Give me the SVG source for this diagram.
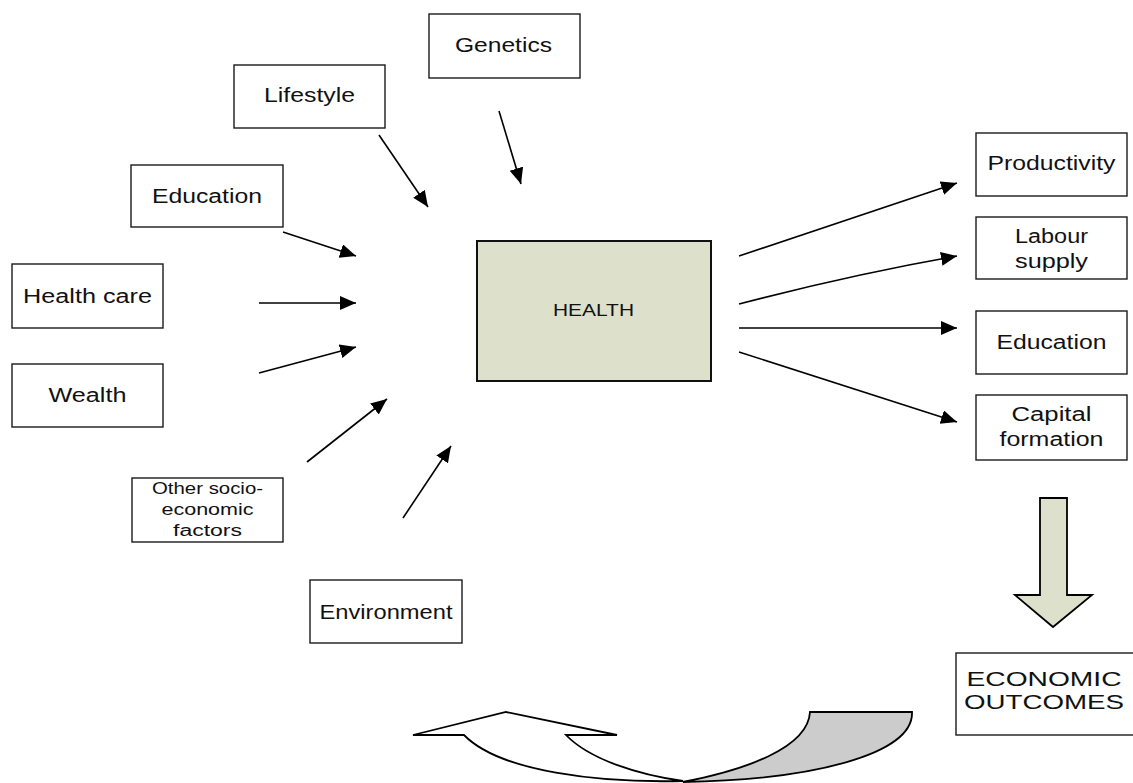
<svg xmlns="http://www.w3.org/2000/svg" width="1133" height="783" viewBox="0 0 1133 783">
  <style>
    .box { fill: #ffffff; stroke: #1a1a1a; stroke-width: 1.4; }
    .core { fill: #dde0cb; stroke: #111111; stroke-width: 2; }
    .lbl { font-family: "Liberation Sans", Arial, sans-serif; font-size: 20px; fill: #111111; text-anchor: middle; }
    .small { font-size: 16px; }
    .edge { stroke: #000000; stroke-width: 1.6; fill: none; marker-end: url(#head); }
    .shape { stroke: #000000; stroke-width: 1.8; stroke-linejoin: miter; }
  </style>
  <defs>
    <marker id="head" markerUnits="userSpaceOnUse" markerWidth="17" markerHeight="15" refX="16" refY="7" orient="auto">
      <path d="M0,0 L16,7 L0,14 Z" fill="#000000"/>
    </marker>
  </defs>

  <rect width="1133" height="783" fill="#ffffff"/>

  <!-- determinants of health -->
  <g id="genetics">
    <rect class="box" x="429" y="14" width="151" height="64"/>
    <text class="lbl" x="503.5" y="52" textLength="97" lengthAdjust="spacingAndGlyphs">Genetics</text>
  </g>
  <g id="lifestyle">
    <rect class="box" x="234" y="65" width="151" height="63"/>
    <text class="lbl" x="309.5" y="102" textLength="91" lengthAdjust="spacingAndGlyphs">Lifestyle</text>
  </g>
  <g id="education-in">
    <rect class="box" x="131" y="165" width="152" height="62"/>
    <text class="lbl" x="207" y="203" textLength="110" lengthAdjust="spacingAndGlyphs">Education</text>
  </g>
  <g id="health-care">
    <rect class="box" x="12" y="264" width="151" height="64"/>
    <text class="lbl" x="87.5" y="303" textLength="129" lengthAdjust="spacingAndGlyphs">Health care</text>
  </g>
  <g id="wealth">
    <rect class="box" x="12" y="364" width="151" height="63"/>
    <text class="lbl" x="87.5" y="402" textLength="78" lengthAdjust="spacingAndGlyphs">Wealth</text>
  </g>
  <g id="other-factors">
    <rect class="box" x="132" y="478" width="151" height="64"/>
    <text class="lbl small" x="207.5" y="494" textLength="111" lengthAdjust="spacingAndGlyphs">Other socio-</text>
    <text class="lbl small" x="207.5" y="515" textLength="92" lengthAdjust="spacingAndGlyphs">economic</text>
    <text class="lbl small" x="207.5" y="536" textLength="69" lengthAdjust="spacingAndGlyphs">factors</text>
  </g>
  <g id="environment">
    <rect class="box" x="310" y="580" width="152" height="63"/>
    <text class="lbl" x="386" y="619" textLength="133" lengthAdjust="spacingAndGlyphs">Environment</text>
  </g>

  <!-- central node -->
  <g id="health">
    <rect class="core" x="477" y="241" width="234" height="140"/>
    <text class="lbl small" x="593.5" y="316" textLength="81" lengthAdjust="spacingAndGlyphs">HEALTH</text>
  </g>

  <!-- economic effects -->
  <g id="productivity">
    <rect class="box" x="976" y="133" width="151" height="63"/>
    <text class="lbl" x="1051.5" y="170" textLength="128" lengthAdjust="spacingAndGlyphs">Productivity</text>
  </g>
  <g id="labour-supply">
    <rect class="box" x="976" y="217" width="151" height="62"/>
    <text class="lbl" x="1051.5" y="243" textLength="73" lengthAdjust="spacingAndGlyphs">Labour</text>
    <text class="lbl" x="1051.5" y="268" textLength="73" lengthAdjust="spacingAndGlyphs">supply</text>
  </g>
  <g id="education-out">
    <rect class="box" x="976" y="311" width="151" height="63"/>
    <text class="lbl" x="1051.5" y="349" textLength="110" lengthAdjust="spacingAndGlyphs">Education</text>
  </g>
  <g id="capital-formation">
    <rect class="box" x="976" y="395" width="151" height="65"/>
    <text class="lbl" x="1051.5" y="421" textLength="80" lengthAdjust="spacingAndGlyphs">Capital</text>
    <text class="lbl" x="1051.5" y="446" textLength="104" lengthAdjust="spacingAndGlyphs">formation</text>
  </g>
  <g id="economic-outcomes">
    <rect class="box" x="956" y="653" width="178" height="82"/>
    <text class="lbl" x="1044" y="686" textLength="155" lengthAdjust="spacingAndGlyphs">ECONOMIC</text>
    <text class="lbl" x="1044" y="709" textLength="160" lengthAdjust="spacingAndGlyphs">OUTCOMES</text>
  </g>

  <!-- connectors -->
  <g id="connectors">
    <line class="edge" x1="499" y1="111" x2="521" y2="184"/>
    <line class="edge" x1="379" y1="135" x2="428" y2="207"/>
    <line class="edge" x1="283" y1="232" x2="356" y2="256"/>
    <line class="edge" x1="259" y1="303" x2="356" y2="303"/>
    <line class="edge" x1="259" y1="373" x2="356" y2="347"/>
    <line class="edge" x1="307" y1="462" x2="387" y2="399"/>
    <line class="edge" x1="403" y1="518" x2="451" y2="446"/>

    <line class="edge" x1="739" y1="256" x2="957" y2="183"/>
    <path class="edge" d="M739,304 Q850,275 957,256"/>
    <line class="edge" x1="739" y1="328" x2="957" y2="328"/>
    <line class="edge" x1="739" y1="352" x2="957" y2="422"/>

    <!-- block arrow down to outcomes -->
    <polygon class="shape" fill="#dde0cb" points="1040,498 1067,498 1067,595 1092,595 1053,627 1015,595 1040,595"/>

    <!-- feedback loop: curved block arrow -->
    <path class="shape" fill="#ffffff" d="M413,735 L506,712 L617,735 L566,735 C590,760 640,775 683,781 C600,783 500,772 464,735 Z"/>
    <path class="shape" fill="#cccccc" d="M810,712 L912,712 C914,755 810,780 683,782 C745,770 808,748 810,712 Z"/>
  </g>
</svg>
